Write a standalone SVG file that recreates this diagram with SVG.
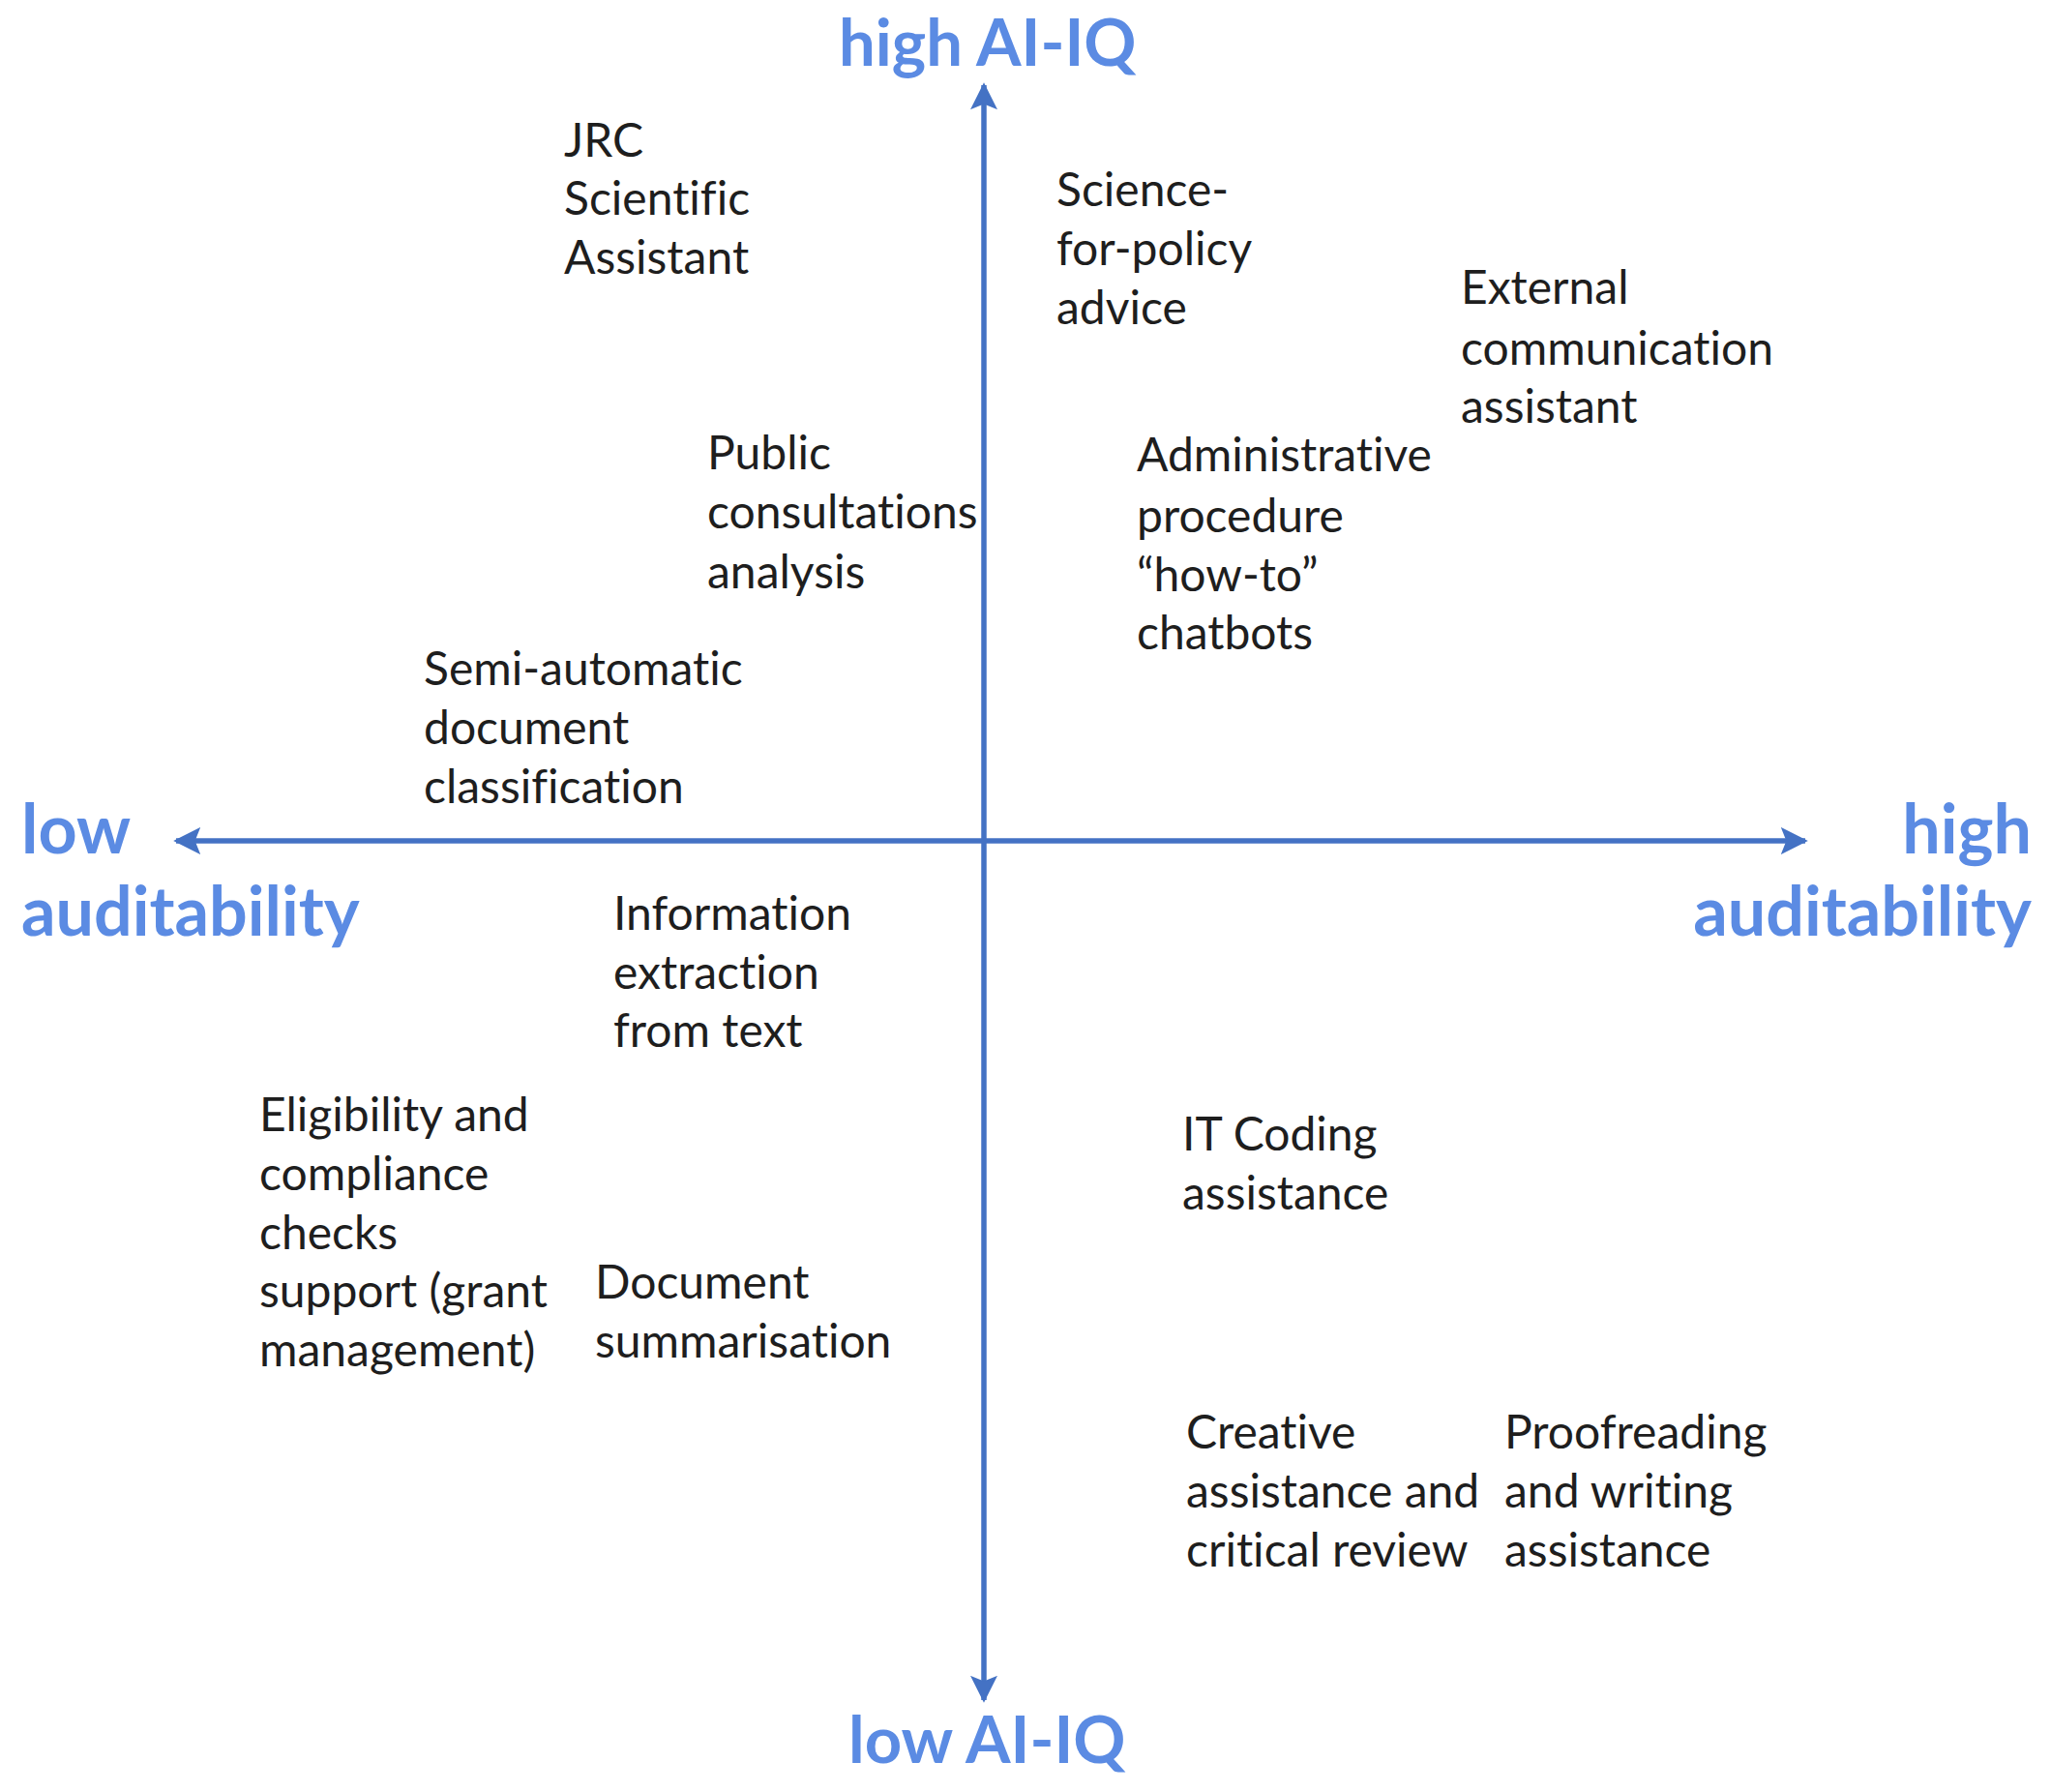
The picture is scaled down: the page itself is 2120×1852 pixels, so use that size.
<svg xmlns="http://www.w3.org/2000/svg" width="2120" height="1852" viewBox="0 0 2120 1852">
<style>
.t{font-family:Lato,"Open Sans","Liberation Sans",sans-serif;font-size:48px;fill:#1e1e1e;font-variant-ligatures:none;font-feature-settings:"liga" 0,"dlig" 0}
.ax{font-family:Lato,"Open Sans","Liberation Sans",sans-serif;font-size:67px;font-weight:bold;fill:#5b8be3;font-variant-ligatures:none}
.aud{font-size:70px}
.axis{stroke:#4472c4;stroke-width:5.5;fill:none;marker-end:url(#ah)}
</style>
<defs>
<marker id="ah" viewBox="0 0 10 10" refX="9" refY="5" markerUnits="userSpaceOnUse" markerWidth="28" markerHeight="28" orient="auto">
<path d="M0,0 L10,5 L0,10 L2,5 Z" fill="#4472c4"/>
</marker>
</defs>
<rect width="2120" height="1852" fill="#ffffff"/>
<g id="connectors">
<line class="axis" x1="1017" y1="869" x2="1017" y2="88"/>
<line class="axis" x1="1017" y1="869" x2="1017" y2="1757"/>
<line class="axis" x1="1017" y1="869" x2="182" y2="869"/>
<line class="axis" x1="1017" y1="869" x2="1866" y2="869"/>
</g>
<g id="axis-labels">
<text class="ax" x="867" y="68">high AI-IQ</text>
<text class="ax" x="877" y="1822">low AI-IQ</text>
<text class="ax aud" x="22" y="882">low</text>
<text class="ax aud" x="22" y="967">auditability</text>
<text class="ax aud" x="2100" y="882" text-anchor="end">high</text>
<text class="ax aud" x="2100" y="967" text-anchor="end">auditability</text>
</g>
<g id="jrc"><text class="t" x="583" y="162">JRC</text><text class="t" x="583" y="222">Scientific</text><text class="t" x="583" y="283">Assistant</text></g>
<g id="science-policy"><text class="t" x="1092" y="213">Science-</text><text class="t" x="1092" y="274">for-policy</text><text class="t" x="1092" y="335">advice</text></g>
<g id="external-comm"><text class="t" x="1510" y="314">External</text><text class="t" x="1510" y="377">communication</text><text class="t" x="1510" y="437">assistant</text></g>
<g id="public-consult"><text class="t" x="731" y="485">Public</text><text class="t" x="731" y="546">consultations</text><text class="t" x="731" y="608">analysis</text></g>
<g id="admin-chatbots"><text class="t" x="1175" y="487">Administrative</text><text class="t" x="1175" y="550">procedure</text><text class="t" x="1175" y="611">“how-to”</text><text class="t" x="1175" y="671">chatbots</text></g>
<g id="semi-auto"><text class="t" x="438" y="708">Semi-automatic</text><text class="t" x="438" y="769">document</text><text class="t" x="438" y="830">classification</text></g>
<g id="info-extraction"><text class="t" x="634" y="961">Information</text><text class="t" x="634" y="1022">extraction</text><text class="t" x="634" y="1082">from text</text></g>
<g id="eligibility"><text class="t" x="268" y="1169">Eligibility and</text><text class="t" x="268" y="1230">compliance</text><text class="t" x="268" y="1291">checks</text><text class="t" x="268" y="1351">support (grant</text><text class="t" x="268" y="1412">management)</text></g>
<g id="doc-summ"><text class="t" x="615" y="1342">Document</text><text class="t" x="615" y="1403">summarisation</text></g>
<g id="it-coding"><text class="t" x="1222" y="1189">IT Coding</text><text class="t" x="1222" y="1250">assistance</text></g>
<g id="creative"><text class="t" x="1226" y="1497">Creative</text><text class="t" x="1226" y="1558">assistance and</text><text class="t" x="1226" y="1619">critical review</text></g>
<g id="proofreading"><text class="t" x="1555" y="1497">Proofreading</text><text class="t" x="1555" y="1558">and writing</text><text class="t" x="1555" y="1619">assistance</text></g>
</svg>
